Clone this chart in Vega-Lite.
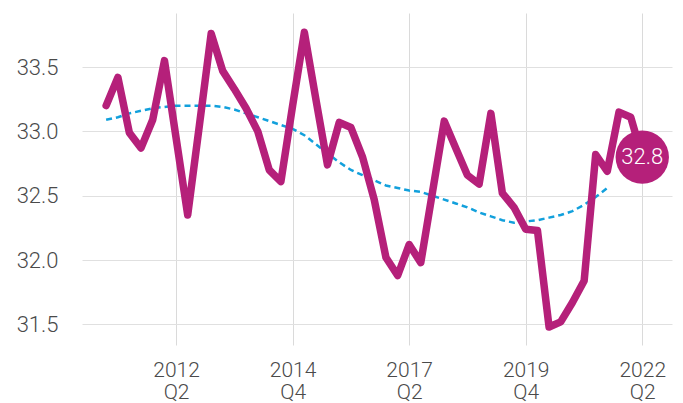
{
  "$schema": "https://vega.github.io/schema/vega-lite/v6.json",
  "width": 590,
  "height": 332,
  "autosize": {"type": "none"},
  "padding": {"left": 82, "top": 13, "right": 11, "bottom": 58},
  "background": "white",
  "config": {
    "view": {"stroke": null},
    "font": "Roboto",
    "axis": {"labelFont": "Roboto", "labelFontWeight": 300, "labelColor": "#4a4a4a", "labelFontSize": 22, "gridColor": "#e0e0e0", "gridWidth": 1, "domain": false, "ticks": false, "title": null}
  },
  "data": {
    "values": [
      {"date": "2010-10-01", "value": 33.20, "trend": 33.09},
      {"date": "2011-01-01", "value": 33.42, "trend": 33.11},
      {"date": "2011-04-01", "value": 32.99, "trend": 33.14},
      {"date": "2011-07-01", "value": 32.87, "trend": 33.16},
      {"date": "2011-10-01", "value": 33.09, "trend": 33.18},
      {"date": "2012-01-01", "value": 33.55, "trend": 33.19},
      {"date": "2012-04-01", "value": 32.95, "trend": 33.20},
      {"date": "2012-07-01", "value": 32.35, "trend": 33.20},
      {"date": "2012-10-01", "value": 33.05, "trend": 33.20},
      {"date": "2013-01-01", "value": 33.76, "trend": 33.20},
      {"date": "2013-04-01", "value": 33.47, "trend": 33.19},
      {"date": "2013-07-01", "value": 33.33, "trend": 33.17},
      {"date": "2013-10-01", "value": 33.18, "trend": 33.14},
      {"date": "2014-01-01", "value": 33.00, "trend": 33.11},
      {"date": "2014-04-01", "value": 32.70, "trend": 33.08},
      {"date": "2014-07-01", "value": 32.61, "trend": 33.05},
      {"date": "2014-10-01", "value": 33.20, "trend": 33.02},
      {"date": "2015-01-01", "value": 33.77, "trend": 32.97},
      {"date": "2015-04-01", "value": 33.25, "trend": 32.90},
      {"date": "2015-07-01", "value": 32.74, "trend": 32.83},
      {"date": "2015-10-01", "value": 33.07, "trend": 32.76},
      {"date": "2016-01-01", "value": 33.03, "trend": 32.70},
      {"date": "2016-04-01", "value": 32.80, "trend": 32.66},
      {"date": "2016-07-01", "value": 32.47, "trend": 32.62},
      {"date": "2016-10-01", "value": 32.02, "trend": 32.58},
      {"date": "2017-01-01", "value": 31.88, "trend": 32.56},
      {"date": "2017-04-01", "value": 32.12, "trend": 32.54},
      {"date": "2017-07-01", "value": 31.98, "trend": 32.53},
      {"date": "2017-10-01", "value": 32.53, "trend": 32.50},
      {"date": "2018-01-01", "value": 33.08, "trend": 32.47},
      {"date": "2018-04-01", "value": 32.87, "trend": 32.44},
      {"date": "2018-07-01", "value": 32.66, "trend": 32.41},
      {"date": "2018-10-01", "value": 32.59, "trend": 32.37},
      {"date": "2019-01-01", "value": 33.14, "trend": 32.34},
      {"date": "2019-04-01", "value": 32.52, "trend": 32.31},
      {"date": "2019-07-01", "value": 32.41, "trend": 32.29},
      {"date": "2019-10-01", "value": 32.24, "trend": 32.30},
      {"date": "2020-01-01", "value": 32.23, "trend": 32.31},
      {"date": "2020-04-01", "value": 31.48, "trend": 32.33},
      {"date": "2020-07-01", "value": 31.52, "trend": 32.35},
      {"date": "2020-10-01", "value": 31.67, "trend": 32.38},
      {"date": "2021-01-01", "value": 31.84, "trend": 32.43},
      {"date": "2021-04-01", "value": 32.82, "trend": 32.49},
      {"date": "2021-07-01", "value": 32.69, "trend": 32.56},
      {"date": "2021-10-01", "value": 33.15, "trend": null},
      {"date": "2022-01-01", "value": 33.11, "trend": null},
      {"date": "2022-04-01", "value": 32.80, "trend": null}
    ]
  },
  "encoding": {
    "x": {
      "field": "date",
      "type": "temporal",
      "scale": {"domain": [{"year": 2010, "month": 3, "date": 26, "utc": true}, {"year": 2022, "month": 11, "date": 20, "utc": true}]},
      "axis": {
        "values": [
          {"year": 2012, "month": 4, "date": 1, "utc": true},
          {"year": 2014, "month": 10, "date": 1, "utc": true},
          {"year": 2017, "month": 4, "date": 1, "utc": true},
          {"year": 2019, "month": 10, "date": 1, "utc": true},
          {"year": 2022, "month": 4, "date": 1, "utc": true}
        ],
        "labelExpr": "[utcFormat(datum.value, '%Y'), 'Q' + utcquarter(datum.value)]",
        "labelPadding": 14,
        "labelLineHeight": 22,
        "labelFontSize": 21,
        "gridColor": "#dadada"
      }
    }
  },
  "layer": [
    {
      "mark": {"type": "line", "color": "#12A0DC", "strokeWidth": 2.5, "strokeDash": [6, 4]},
      "encoding": {
        "y": {"field": "trend", "type": "quantitative"}
      }
    },
    {
      "mark": {"type": "line", "color": "#B5207A", "strokeWidth": 7.5, "strokeJoin": "round", "strokeCap": "round"},
      "encoding": {
        "y": {
          "field": "value",
          "type": "quantitative",
          "scale": {"domain": [31.34, 33.92], "nice": false, "zero": false},
          "axis": {"values": [31.5, 32, 32.5, 33, 33.5], "format": ".1f", "labelPadding": 24}
        }
      }
    },
    {
      "transform": [{"filter": "year(datum.date) == 2022 && month(datum.date) == 3"}],
      "mark": {"type": "circle", "color": "#B5207A", "opacity": 1, "size": 2850},
      "encoding": {"y": {"field": "value", "type": "quantitative"}}
    },
    {
      "transform": [{"filter": "year(datum.date) == 2022 && month(datum.date) == 3"}],
      "mark": {"type": "text", "color": "white", "fontSize": 22, "fontWeight": 300, "font": "Roboto"},
      "encoding": {
        "y": {"field": "value", "type": "quantitative"},
        "text": {"field": "value", "type": "quantitative", "format": ".1f"}
      }
    }
  ],
  "resolve": {"scale": {"y": "shared"}}
}
